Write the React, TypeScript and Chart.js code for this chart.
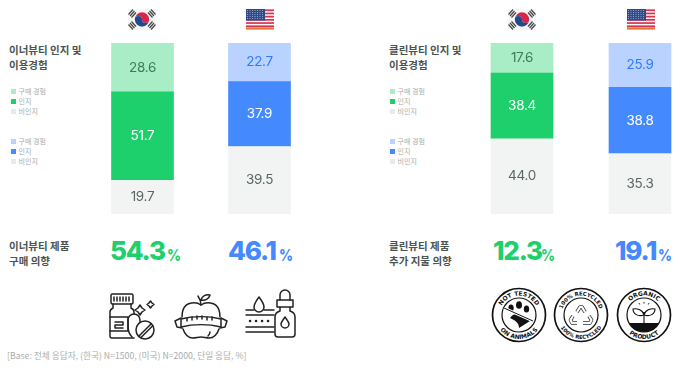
import React, { useEffect, useRef } from "react";
import { Chart, registerables } from "chart.js";

Chart.register(...registerables);

const countries = ["한국", "미국"];
const seriesNames = ["비인지", "인지", "구매 경험"];
const innerNon = [19.7, 39.5];
const innerAware = [51.7, 37.9];
const innerBuy = [28.6, 22.7];
const cleanNon = [44.0, 35.3];
const cleanAware = [38.4, 38.8];
const cleanBuy = [17.6, 25.9];
const legendLabels = ["구매 경험", "인지", "비인지"];

const GREEN = "#1DD06C", LGREEN = "#A9EDC6", BLUE = "#4589FF", LBLUE = "#B9D2FF", GRAY = "#F1F4F3";
const KR = "'Noto Sans CJK KR', sans-serif";
const NUM = "Inter, sans-serif";

const labelPlugin = {
  id: "barLabels",
  afterDatasetsDraw(chart: any) {
    const ctx = chart.ctx;
    const colors = [["#5b6663", "#5b6663"], ["#ffffff", "#ffffff"], ["#3e7a58", "#2f7bff"]];
    chart.data.datasets.forEach((ds: any, i: number) => {
      const meta = chart.getDatasetMeta(i);
      meta.data.forEach((bar: any, j: number) => {
        const cy = (bar.y + bar.base) / 2;
        ctx.save();
        ctx.font = `400 13.5px ${NUM}`;
        ctx.letterSpacing = "-0.3px";
        ctx.fillStyle = colors[i][j];
        ctx.textAlign = "center";
        ctx.textBaseline = "middle";
        ctx.fillText(Number(ds.data[j]).toFixed(1), bar.x, cy);
        ctx.restore();
      });
    });
  },
};

function StackChart({ left, width, non, aware, buy }: any) {
  const ref = useRef<HTMLCanvasElement>(null);
  useEffect(() => {
    const chart = new Chart(ref.current!, {
      type: "bar",
      data: {
        labels: countries,
        datasets: [
          { label: seriesNames[0], data: non, backgroundColor: [GRAY, GRAY] },
          { label: seriesNames[1], data: aware, backgroundColor: [GREEN, BLUE] },
          { label: seriesNames[2], data: buy, backgroundColor: [LGREEN, LBLUE] },
        ],
      },
      options: {
        animation: false,
        responsive: false,
        layout: { padding: 0 },
        datasets: { bar: { barThickness: 62 } },
        plugins: { legend: { display: false }, tooltip: { enabled: false } },
        scales: {
          x: { stacked: true, display: false },
          y: { stacked: true, display: false, min: 0, max: 100 },
        },
      },
      plugins: [labelPlugin],
    } as any);
    return () => chart.destroy();
  }, []);
  return (
    <canvas
      ref={ref}
      width={width}
      height={171}
      style={{ position: "absolute", left, top: 43, width, height: 171 }}
    />
  );
}

function Txt({ x, y, size, color, weight, children, font, spacing, sx }: any) {
  return (
    <div
      style={{
        position: "absolute", left: x, top: y, fontSize: size, color, fontWeight: weight ?? 400,
        fontFamily: font ?? KR, lineHeight: 1, whiteSpace: "nowrap", letterSpacing: spacing ?? 0,
        transform: sx ? `scaleX(${sx})` : undefined, transformOrigin: "left top",
      }}
    >
      {children}
    </div>
  );
}

function Legend({ x, y, colors }: any) {
  return (
    <>
      {legendLabels.map((l, i) => (
        <React.Fragment key={l}>
          <div style={{ position: "absolute", left: x, top: y + i * 10.2 - 2.5, width: 5.5, height: 5.5, background: colors[i] }} />
          <Txt x={x + 8} y={y + i * 10.2 - 3.5} size={7} color="#a9adac">{l}</Txt>
        </React.Fragment>
      ))}
    </>
  );
}

function KoreaFlag({ x }: any) {
  return (
    <svg style={{ position: "absolute", left: x, top: 9 }} width="28" height="21" viewBox="0 0 28 21">
      <rect width="28" height="21" fill="#f6f6f6" />
      <path d="M6.800 10.500a7.200 7.200 0 0 1 14.400 0 3.600 3.600 0 0 1-7.200 0 3.600 3.600 0 0 0-7.200 0z" fill="#d8264a" />
      <path d="M6.800 10.500a3.600 3.600 0 0 1 7.200 0 3.600 3.600 0 0 0 7.200 0 7.200 7.200 0 0 1-14.400 0z" fill="#1f4a8f" />
      <g stroke="#444" strokeWidth="1.200" fill="none">
        <path d="M.5 5.500l4.500-5M2 7l4.500-5M3.500 8.500l4.500-5M20 3.500l4.500 5M21.500 2l4.500 5M23 .5l4.500 5M.5 15.500l4.500 5M2 14l4.500 5M3.500 12.500l4.500 5M20 17.500l4.500-5M21.500 19l4.500-5M23 20.500l4.500-5" />
      </g>
    </svg>
  );
}

function UsFlag({ x }: any) {
  const rows = [0, 1, 2, 3, 4, 5];
  return (
    <svg style={{ position: "absolute", left: x, top: 9 }} width="28" height="21" viewBox="0 0 28 21">
      <rect width="28" height="21" fill="#f7f7f7" />
      {rows.map((r) => (
        <rect key={r} y={r * 3.2 + 0.4} width="28" height="1.700" fill="#d9344c" />
      ))}
      <rect y="18.400" width="28" height="2.200" fill="#e0763a" />
      <rect width="19" height="11.500" fill="#2f4a86" />
      {[1.5, 3.5, 5.5, 7.5, 9.5].map((yy) =>
        [1.5, 4, 6.5, 9, 11.5, 14, 16.5].map((xx) => <circle key={xx + "-" + yy} cx={xx} cy={yy} r=".55" fill="#9fb0d8" />)
      )}
    </svg>
  );
}

const iconStroke = { fill: "none", stroke: "#222", strokeWidth: 1.5, strokeLinejoin: "round", strokeLinecap: "round" } as any;

function PillsIcon() {
  return (
    <svg style={{ position: "absolute", left: 108, top: 291 }} width="50" height="50" viewBox="0 0 50 50" {...iconStroke}>
      <rect x="3" y="3" width="22" height="10" rx="1.500" />
      <path d="M6 6v4M9 6v4M12 6v4M15 6v4M18 6v4M21 6v4" />
      <path d="M5 13v4c-2 1-3 2-3 4v24c0 1.500 1 2 2 2h22" />
      <path d="M23 13v4c2 1 3 2 3 4v2" />
      <path d="M2 26h18v14H2M7 31h8v3H7v3h8" />
      <circle cx="37" cy="39" r="9" />
      <path d="M31 45l12-12M33.500 46l11-11" />
      <path d="M24 46c-3-3-4-7-4-11v-6a6 6 0 0 1 12 0v2" />
      <path d="M30 17l2-3 2 3 3 2-3 2-2 3-2-3-3-2zM41 12l1.500-2 1.500 2 2 1.500-2 1.500-1.500 2-1.500-2-2-1.500z" />
    </svg>
  );
}

function AppleIcon() {
  return (
    <svg style={{ position: "absolute", left: 174, top: 291 }} width="54" height="50" viewBox="0 0 54 50" {...iconStroke}>
      <path d="M27 14c-4-3-15-4-18 5-1 3-1 5-1 7M46 26c0-2 0-4-1-7-3-9-14-8-18-5" />
      <path d="M9 38c2 6 6 9 10 9 3 0 5-1 8-1s5 1 8 1c4 0 8-3 10-9" />
      <path d="M27 14c0-3-1-6-3-9M27 9c1-4 5-6 9-5-1 4-5 6-9 5z" />
      <path d="M7 28c12-3 28-3 40 0v8c-12-3-28-3-40 0z" />
      <path d="M7 27l-6 3 2 6 5 1M47 27l6 3-2 6-5 1" />
      <path d="M13 27v3M18 26v3M23 25v3M28 25v3M33 26v3M38 26v3" />
      <path d="M36 41c0 2-1 3-2 4" />
    </svg>
  );
}

function SerumIcon() {
  return (
    <svg style={{ position: "absolute", left: 244, top: 288 }} width="52" height="52" viewBox="0 0 52 52" {...iconStroke}>
      <path d="M15 9c-3 4-5 7-5 10a5 5 0 0 0 10 0c0-3-2-6-5-10z" />
      <path d="M2 22h8M20 22h10M2 27h28M2 39h28M2 44h28" />
      <path d="M6 33h.1M12 33h.1M18 33h.1M24 33h.1" strokeWidth="2.500" />
      <path d="M36 12V7a5 5 0 0 1 10 0v5" />
      <path d="M33 12h16v7H33zM36 19v4c-3 1-5 3-5 6v17c0 2 1 3 3 3h14c2 0 3-1 3-3V29c0-3-2-5-5-6v-4" />
      <path d="M41 29c-2 3-4 5-4 7a4 4 0 0 0 8 0c0-2-2-4-4-7z" />
    </svg>
  );
}

function Badge({ x, id, top, bottom, size, children }: any) {
  const fs = size ?? 6;
  return (
    <svg style={{ position: "absolute", left: x, top: 287 }} width="56" height="56" viewBox="0 0 56 56">
      <defs>
        <path id={id + "t"} d="M8.500 28a19.500 19.500 0 0 1 39 0" />
        <path id={id + "b"} d="M4 28a24 24 0 0 0 48 0" />
      </defs>
      <circle cx="28" cy="28" r="26.500" fill="none" stroke="#111" strokeWidth="1.700" />
      <circle cx="28" cy="28" r="17" fill="none" stroke="#111" strokeWidth="1.200" />
      <text fontFamily="'DejaVu Sans', sans-serif" fontSize={fs} fontWeight="700" fill="#111" textAnchor="middle">
        <textPath href={`#${id}t`} startOffset="50%">{top}</textPath>
      </text>
      <text fontFamily="'DejaVu Sans', sans-serif" fontSize={fs} fontWeight="700" fill="#111" textAnchor="middle">
        <textPath href={`#${id}b`} startOffset="50%">{bottom}</textPath>
      </text>
      {children}
    </svg>
  );
}

const recycleArrows = "M24 25l3-5h2l3 5M36 29l2.500 4-1.500 3h-7M24 36h-5l-1.500-3 2.500-4";

export default function App() {
  useEffect(() => {
    document.body.style.margin = "0";
    document.body.style.background = "#fff";
  }, []);
  return (
    <div style={{ position: "relative", width: 680, height: 371, overflow: "hidden", background: "#fff", filter: "blur(0.4px)" }}>
      <KoreaFlag x={128} />
      <UsFlag x={246} />
      <KoreaFlag x={508} />
      <UsFlag x={627} />

      <StackChart left={83.5} width={117 * 2} non={innerNon} aware={innerAware} buy={innerBuy} />
      <StackChart left={463} width={118 * 2} non={cleanNon} aware={cleanAware} buy={cleanBuy} />

      <Txt x={9} y={45} size={10.500} weight={700} color="#4a5451">이너뷰티 인지 및</Txt>
      <Txt x={9} y={60} size={10.500} weight={700} color="#4a5451">이용경험</Txt>
      <Txt x={389} y={45} size={10.500} weight={700} color="#4a5451">클린뷰티 인지 및</Txt>
      <Txt x={389} y={60} size={10.500} weight={700} color="#4a5451">이용경험</Txt>

      <Legend x={10.500} y={91} colors={[LGREEN, GREEN, "#e9ebea"]} />
      <Legend x={10.500} y={141} colors={[LBLUE, BLUE, "#e9ebea"]} />
      <Legend x={389.500} y={91} colors={[LGREEN, GREEN, "#e9ebea"]} />
      <Legend x={389.500} y={141} colors={[LBLUE, BLUE, "#e9ebea"]} />

      <Txt x={9} y={241} size={10.500} weight={700} color="#4a5451">이너뷰티 제품</Txt>
      <Txt x={9} y={256} size={10.500} weight={700} color="#4a5451">구매 의향</Txt>
      <Txt x={389} y={241} size={10.500} weight={700} color="#4a5451">클린뷰티 제품</Txt>
      <Txt x={389} y={256} size={10.500} weight={700} color="#4a5451">추가 지불 의향</Txt>

      {[
        [110, "54.3", GREEN, 167],
        [228, "46.1", BLUE, 279],
        [493, "12.3", GREEN, 541],
        [615, "19.1", BLUE, 658],
      ].map(([x, v, c, px]: any) => (
        <React.Fragment key={v}>
          <Txt x={x} y={238} size={26} weight={800} color={c} font={NUM} spacing={-1.200}>{v}</Txt>
          <Txt x={px} y={247.500} size={15.500} weight={800} color={c} font={NUM} sx={0.880}>%</Txt>
        </React.Fragment>
      ))}

      <PillsIcon />
      <AppleIcon />
      <SerumIcon />

      <Badge x={490.500} id="b1" top="NOT TESTED" bottom="ON ANIMALS">
        <ellipse cx="28" cy="18" rx="3" ry="3.800" fill="#111" />
        <ellipse cx="20" cy="21" rx="2.700" ry="3.500" fill="#111" />
        <ellipse cx="35.500" cy="22" rx="2.700" ry="3.500" fill="#111" />
        <path d="M19 31c2-4 7-5 10-4l10 7-11 7c0-4-2-7-9-10z" fill="#111" />
        <path d="M13 21L42 34" stroke="#fff" strokeWidth="3" />
        <path d="M13 21L42 34" stroke="#111" strokeWidth="1" />
      </Badge>
      <Badge x={553} id="b2" top="100% RECYCLED" bottom="100% RECYCLED" size={5.300}>
        <path d={recycleArrows} fill="none" stroke="#333" strokeWidth="3.600" strokeLinejoin="round" />
        <path d={recycleArrows} fill="none" stroke="#fff" strokeWidth="2.200" strokeLinejoin="round" />
      </Badge>
      <Badge x={615.500} id="b3" top="ORGANIC" bottom="PRODUCT">
        <path d="M28 36V25M28 28c-1-5-7-7-11-6 0 5 5 8 11 6zM28 28c1-5 7-7 11-6 0 5-5 8-11 6z" fill="none" stroke="#111" strokeWidth="1.100" />
        <path d="M13 36h30a17 17 0 0 1-30 0z" fill="#111" />
        <path d="M23 16l.7 1.500M28 15v1.500M33 16l-.7 1.500" stroke="#111" strokeWidth="0.900" />
      </Badge>

      <Txt x={7} y={352} size={8.700} color="#a9adac">[Base: 전체 응답자, (한국) N=1500, (미국) N=2000, 단일 응답, %]</Txt>
    </div>
  );
}
